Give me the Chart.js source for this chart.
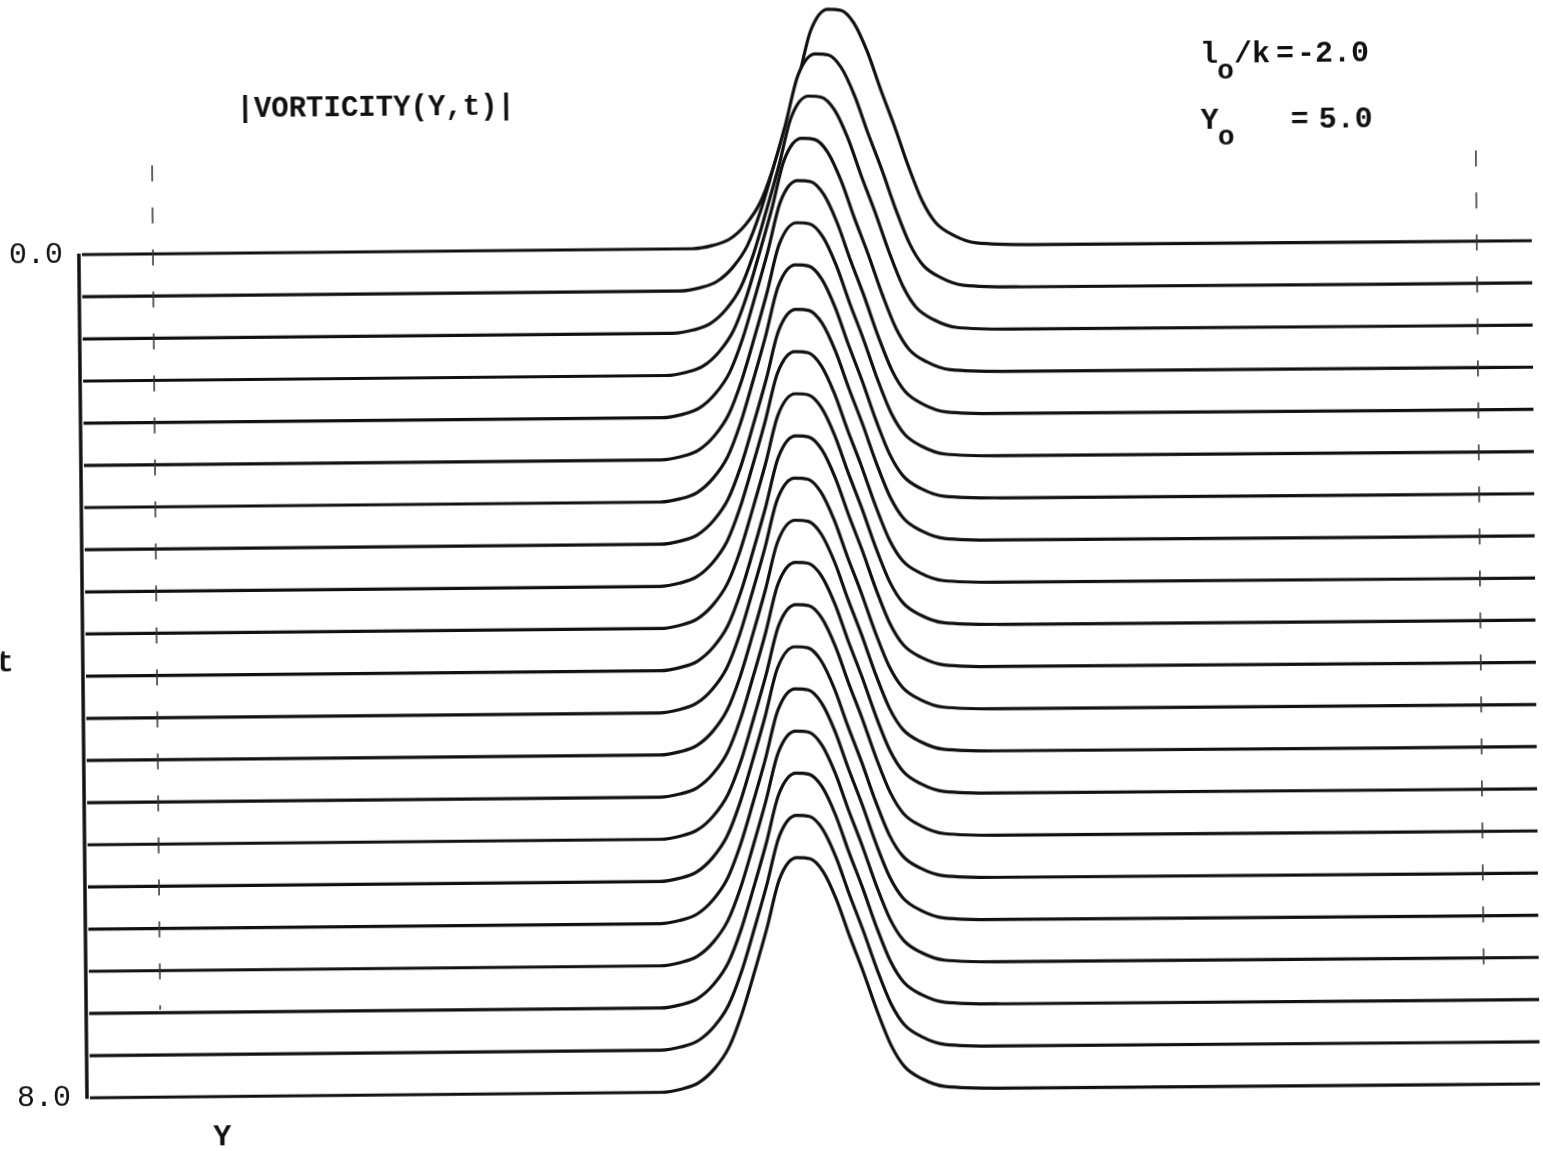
<!DOCTYPE html>
<html>
<head>
<meta charset="utf-8">
<title>|VORTICITY(Y,t)|</title>
<script src="https://cdn.jsdelivr.net/npm/chart.js@4/dist/chart.umd.min.js"></script>
<style>
  html, body { margin: 0; padding: 0; background: #fff; overflow: hidden; }
  #sheet { width: 1543px; height: 1151px; transform: rotate(-0.55deg); transform-origin: 50% 50%; }
  canvas { display: block; }
</style>
</head>
<body>
<div id="sheet"><canvas id="plot" width="1543" height="1151"></canvas></div>
<script>
// Time levels, one trace each (t grows downward).
const times = [0.0, 0.4, 0.8, 1.2, 1.6, 2.0, 2.4, 2.8, 3.2, 3.6, 4.0,
               4.4, 4.8, 5.2, 5.6, 6.0, 6.4, 6.8, 7.2, 7.6, 8.0];

// Y position of the vorticity maximum at each time level.
const peakCentres = [5.20, 5.11, 5.06, 5.01, 4.98, 4.97, 4.96, 4.96, 4.95, 4.95, 4.95,
                     4.94, 4.94, 4.94, 4.94, 4.93, 4.93, 4.93, 4.93, 4.93, 4.93];

// Maximum |vorticity| at each time level (relative to t = 0).
const peakHeights = [1.00, 0.99, 0.99, 0.99, 0.99, 0.99, 0.99, 0.98, 0.98, 0.98, 0.98,
                     0.98, 0.98, 0.98, 0.98, 0.98, 0.98, 0.98, 0.98, 0.98, 0.98];

// Profile of |vorticity| across Y, relative to its maximum.
const profileOffsets = [-0.99, -0.85, -0.73, -0.62, -0.52, -0.43, -0.34, -0.25, -0.16, -0.04, 0.05,
                         0.14, 0.23, 0.32, 0.41, 0.51, 0.60, 0.69, 0.81, 0.97, 1.36];
const profileShape   = [0.000, 0.013, 0.040, 0.100, 0.190, 0.330, 0.510, 0.700, 0.910, 1.000, 0.995,
                        0.940, 0.820, 0.660, 0.510, 0.330, 0.190, 0.100, 0.047, 0.013, 0.004];

// Labelled t values on the left axis.
const tTicks = [0.0, 8.0];

const Y_MIN = 0, Y_MAX = 10;
const STACK_SCALE = 2.26;          // t-units of lift per unit of |vorticity|
const INK = '#111';
const MONO = "'Liberation Mono', 'DejaVu Sans Mono', monospace";

// Each trace sits on its own t level; the white fill down to that level
// hides whatever lies behind it (earlier times).
const datasets = times.map((t, i) => {
  const pts = [{ x: Y_MIN, y: t }];
  profileOffsets.forEach((d, k) => {
    pts.push({ x: peakCentres[i] + d, y: t - STACK_SCALE * peakHeights[i] * profileShape[k] });
  });
  pts.push({ x: Y_MAX, y: t });
  return {
    label: 't = ' + t.toFixed(1),
    data: pts,
    borderColor: INK,
    borderWidth: 3.2,
    borderJoinStyle: 'round',
    pointRadius: 0,
    cubicInterpolationMode: 'monotone',
    fill: { value: t },
    backgroundColor: '#ffffff',
    order: times.length - i
  };
});

function drawText(ctx, str, x, y, size, weight, align) {
  ctx.font = (weight || 'bold') + ' ' + size + 'px ' + MONO;
  ctx.textAlign = align || 'left';
  ctx.textBaseline = 'alphabetic';
  ctx.fillText(str, x, y);
}

const decorations = {
  id: 'decorations',
  beforeDraw(chart) {
    const ctx = chart.ctx;
    ctx.save();
    ctx.fillStyle = '#ffffff';
    ctx.fillRect(0, 0, chart.width, chart.height);
    ctx.restore();
  },
  afterDatasetsDraw(chart) {
    const { ctx, scales: { x, y } } = chart;
    ctx.save();

    // t axis
    ctx.strokeStyle = INK;
    ctx.lineWidth = 3.5;
    const ax = x.getPixelForValue(Y_MIN) - 3;
    ctx.beginPath();
    ctx.moveTo(ax, y.getPixelForValue(tTicks[0]) - 1);
    ctx.lineTo(ax, y.getPixelForValue(tTicks[tTicks.length - 1]) + 1);
    ctx.stroke();

    // broken guide lines
    ctx.strokeStyle = '#333';
    ctx.lineWidth = 1.5;
    ctx.setLineDash([16, 26]);
    [[0.49, -0.84, 7.17], [9.62, -0.86, 6.87]].forEach(([gy, t0, t1]) => {
      const gx = x.getPixelForValue(gy);
      ctx.beginPath();
      ctx.moveTo(gx, y.getPixelForValue(t0));
      ctx.lineTo(gx, y.getPixelForValue(t1));
      ctx.stroke();
    });
    ctx.setLineDash([]);

    // labels
    ctx.fillStyle = INK;
    drawText(ctx, '|VORTICITY(Y,t)|', 241, 112, 29);
    drawText(ctx, 't', 4, 664, 30, 'bold', 'center');
    drawText(ctx, 'Y', 217, 1140, 30, 'bold', 'center');

    drawText(ctx, 'l', 1205, 67, 30);
    drawText(ctx, 'o', 1222, 83, 28);
    drawText(ctx, '/k', 1239, 67, 30);
    drawText(ctx, '=', 1281, 67, 30);
    drawText(ctx, '-2.0', 1302, 67, 30);

    drawText(ctx, 'Y', 1205, 133, 30);
    drawText(ctx, 'o', 1222, 149, 28);
    drawText(ctx, '=', 1295, 133, 30);
    drawText(ctx, '5.0', 1323, 133, 30);

    ctx.restore();
  }
};

new Chart(document.getElementById('plot'), {
  type: 'line',
  data: { datasets },
  options: {
    responsive: false,
    animation: false,
    events: [],
    layout: { padding: { left: 0, right: 8, top: 0, bottom: 0 } },
    plugins: { legend: { display: false }, tooltip: { enabled: false }, title: { display: false } },
    scales: {
      x: { type: 'linear', display: false, min: Y_MIN, max: Y_MAX },
      y: {
        type: 'linear',
        reverse: true,
        min: -2.353,
        max: 8.567,
        grid: { display: false, drawTicks: false },
        border: { display: false },
        afterBuildTicks: (s) => { s.ticks = tTicks.map(v => ({ value: v })); },
        afterFit: (s) => { s.width = 85; s.paddingTop = 0; s.paddingBottom = 0; },
        ticks: {
          color: INK,
          padding: 19,
          font: { family: MONO, size: 30 },
          callback: (v) => Number(v).toFixed(1)
        }
      }
    }
  },
  plugins: [decorations]
});
</script>
</body>
</html>
